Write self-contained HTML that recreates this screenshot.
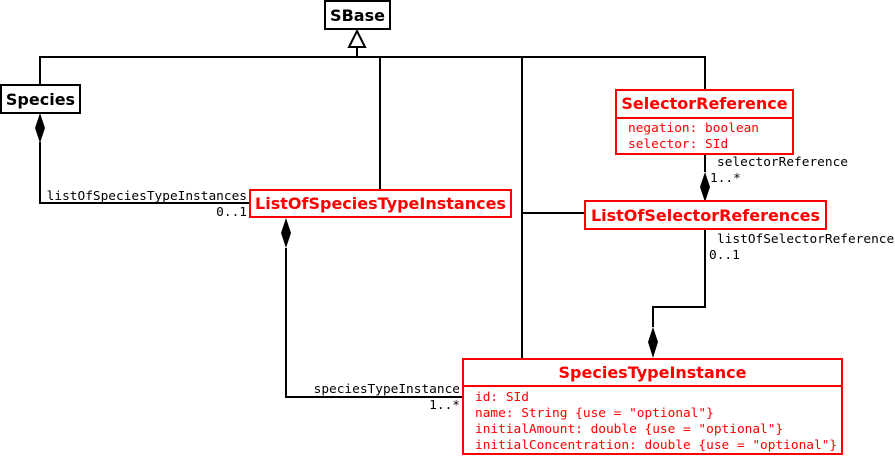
<!DOCTYPE html>
<html><head><meta charset="utf-8"><style>
html,body{margin:0;padding:0;background:#fff;}
svg{display:block;}
.b{font-family:"DejaVu Sans","Liberation Sans",sans-serif;font-weight:bold;font-size:16px;}
.m{font-family:"DejaVu Sans Mono","Liberation Mono",monospace;font-size:12.8px;}
</style></head><body>
<svg width="895" height="457" viewBox="0 0 895 457" xmlns="http://www.w3.org/2000/svg">
<g fill="none" stroke="#000" stroke-width="2">
<polyline points="40,85 40,57 705,57 705,90"/>
<line x1="357" y1="47" x2="357" y2="57"/>
<line x1="380" y1="57" x2="380" y2="190"/>
<line x1="522" y1="57" x2="522" y2="359"/>
<line x1="522" y1="213" x2="585" y2="213"/>
<polyline points="40,142 40,203 250,203"/>
<polyline points="286,248 286,397 463,397"/>
<line x1="705" y1="154" x2="705" y2="172"/>
<polyline points="705,229 705,307 653,307 653,327"/>
</g>
<polygon points="349,47 357,31 365,47" fill="#fff" stroke="#000" stroke-width="2"/>
<g fill="#000">
<polygon points="40,113 45,128 40,143 35,128"/>
<polygon points="286,218 291,233 286,248 281,233"/>
<polygon points="705,172 710,187 705,202 700,187"/>
<polygon points="653,327 658,342 653,358 648,342"/>
</g>
<rect x="325" y="1" width="65" height="28" fill="#fff" stroke="#000" stroke-width="2"/>
<text x="357.5" y="21" text-anchor="middle" class="b">SBase</text>
<rect x="1" y="85" width="79" height="28" fill="#fff" stroke="#000" stroke-width="2"/>
<text x="40.5" y="105" text-anchor="middle" class="b">Species</text>
<g fill="#fff" stroke="#f00" stroke-width="2">
<rect x="250" y="190" width="261" height="27"/>
<rect x="616" y="90" width="177" height="64"/>
<line x1="616" y1="118" x2="793" y2="118"/>
<rect x="585" y="201" width="241" height="28"/>
<rect x="463" y="359" width="379" height="95"/>
<line x1="463" y1="386" x2="842" y2="386"/>
</g>
<g fill="#f00">
<text x="380.5" y="209" text-anchor="middle" class="b">ListOfSpeciesTypeInstances</text>
<text x="704.5" y="109" text-anchor="middle" class="b">SelectorReference</text>
<text x="705.5" y="221" text-anchor="middle" class="b">ListOfSelectorReferences</text>
<text x="652.5" y="378" text-anchor="middle" class="b">SpeciesTypeInstance</text>
<text x="628" y="132" class="m">negation: boolean</text>
<text x="628" y="148" class="m">selector: SId</text>
<text x="475" y="401" class="m">id: SId</text>
<text x="475" y="417" class="m">name: String {use = "optional"}</text>
<text x="475" y="433" class="m">initialAmount: double {use = "optional"}</text>
<text x="475" y="449" class="m">initialConcentration: double {use = "optional"}</text>
</g>
<g fill="#000" class="m">
<text x="247" y="200" text-anchor="end">listOfSpeciesTypeInstances</text>
<text x="247" y="216" text-anchor="end">0..1</text>
<text x="717" y="166">selectorReference</text>
<text x="710" y="182">1..*</text>
<text x="717" y="243">listOfSelectorReferences</text>
<text x="709" y="259">0..1</text>
<text x="460" y="393" text-anchor="end">speciesTypeInstance</text>
<text x="460" y="409" text-anchor="end">1..*</text>
</g>
</svg>
</body></html>
